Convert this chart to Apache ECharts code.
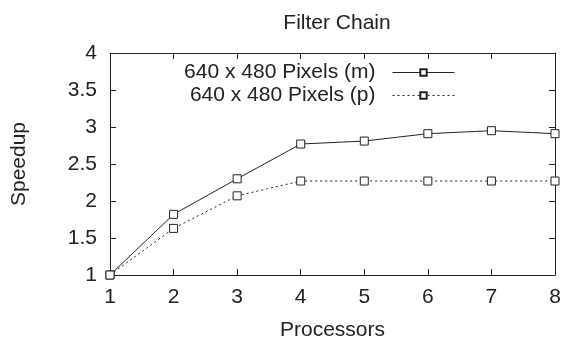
<!DOCTYPE html>
<html>
<head>
<meta charset="utf-8">
<script src="https://cdn.jsdelivr.net/npm/echarts@6/dist/echarts.min.js"></script>
<style>html,body{margin:0;padding:0;background:#fff;}#c{width:564px;height:342px;}</style>
</head>
<body>
<div id="c"></div>
<script>
const processors = [1, 2, 3, 4, 5, 6, 7, 8];
const speedupM = [1, 1.82, 2.30, 2.77, 2.81, 2.91, 2.95, 2.91];
const speedupP = [1, 1.63, 2.07, 2.27, 2.27, 2.27, 2.27, 2.27];
const seriesNames = ['640 x 480 Pixels (m)', '640 x 480 Pixels (p)'];

const FONT = 'Liberation Sans, Arial, sans-serif';
const INK = '#222';
const FS = 21;
const chart = echarts.init(document.getElementById('c'), null, {renderer: 'canvas'});

function pairs(ys) { return processors.map((x, i) => [x, ys[i]]); }

const markerStyle = {color: '#fff', borderColor: INK, borderWidth: 1};
const baseAxisLine = {show: true, lineStyle: {color: INK, width: 1}};

chart.setOption({
  animation: false,
  backgroundColor: '#fff',
  title: {
    text: 'Filter Chain',
    left: 332, top: 8, textAlign: 'center',
    textStyle: {fontFamily: FONT, fontSize: FS, fontWeight: 'normal', color: INK}
  },
  legend: {
    orient: 'vertical',
    right: 104, top: 57,
    align: 'right',
    itemWidth: 62, itemHeight: 8, itemGap: 2,
    lineStyle: {width: 1},
    data: seriesNames,
    textStyle: {fontFamily: FONT, fontSize: FS, color: INK, padding: [0, 12, 0, 0]}
  },
  grid: {left: 110, right: 9, top: 53, bottom: 67, containLabel: false, outerBoundsMode: 'none'},
  xAxis: [{
    type: 'value', min: 1, max: 8, interval: 1,
    name: 'Processors', nameLocation: 'middle', nameGap: 45,
    nameTextStyle: {fontFamily: FONT, fontSize: FS, color: INK},
    axisLine: baseAxisLine,
    axisTick: {inside: true, length: 6, lineStyle: {color: INK}},
    axisLabel: {fontFamily: FONT, fontSize: FS, color: INK, margin: 12},
    splitLine: {show: false}
  }, {
    type: 'value', min: 1, max: 8, interval: 1, position: 'top',
    axisLine: baseAxisLine,
    axisTick: {inside: true, length: 6, lineStyle: {color: INK}},
    axisLabel: {show: false},
    splitLine: {show: false}
  }],
  yAxis: [{
    type: 'value', min: 1, max: 4, interval: 0.5,
    name: 'Speedup', nameLocation: 'middle', nameGap: 80, nameRotate: 90,
    nameTextStyle: {fontFamily: FONT, fontSize: FS, color: INK},
    axisLine: baseAxisLine,
    axisTick: {inside: true, length: 6, lineStyle: {color: INK}},
    axisLabel: {fontFamily: FONT, fontSize: FS, color: INK, margin: 13},
    splitLine: {show: false}
  }, {
    type: 'value', min: 1, max: 4, interval: 0.5, position: 'right',
    axisLine: baseAxisLine,
    axisTick: {inside: true, length: 6, lineStyle: {color: INK}},
    axisLabel: {show: false},
    splitLine: {show: false}
  }],
  series: [{
    name: seriesNames[0], type: 'line', data: pairs(speedupM),
    symbol: 'rect', symbolSize: 8,
    lineStyle: {color: INK, width: 1, type: 'solid'},
    itemStyle: markerStyle, z: 3
  }, {
    name: seriesNames[1], type: 'line', data: pairs(speedupP),
    symbol: 'rect', symbolSize: 8,
    lineStyle: {color: INK, width: 1, type: [2, 3]},
    itemStyle: markerStyle, z: 3
  }]
});
</script>
</body>
</html>
